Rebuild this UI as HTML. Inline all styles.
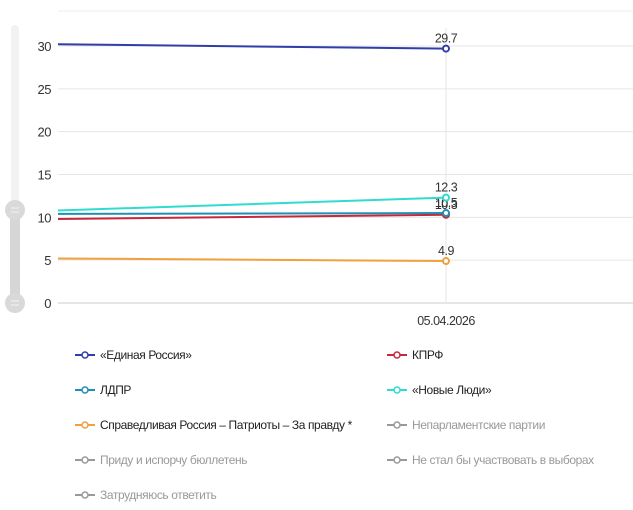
<!DOCTYPE html>
<html><head><meta charset="utf-8"><style>
body{margin:0;background:#fff;font-family:"Liberation Sans",sans-serif;}
svg text{font-family:"Liberation Sans",sans-serif;}
</style></head><body>
<svg id="c" width="633" height="505">
<line x1="58" y1="11" x2="633" y2="11" stroke="#eee"/>
<g>
<rect x="11" y="25" width="8" height="285" rx="4" fill="#f2f2f2"/>
<rect x="10" y="210" width="10" height="93" fill="#d6d6d6"/>
<circle cx="15" cy="210" r="10" fill="#d9d9d9"/>
<circle cx="15" cy="303" r="10" fill="#d9d9d9"/>
<path d="M11 208h8M11 212h8M11 301h8M11 305h8" stroke="#f4f4f4" stroke-width="1"/>
</g>
<g id="grid"></g><g id="series"></g><g id="legend"></g>
</svg>
<script>
const yTicks=[0,5,10,15,20,25,30];
const categories=["","05.04.2026"];
const seriesNames=["«Единая Россия»","КПРФ","ЛДПР","«Новые Люди»","Справедливая Россия – Патриоты – За правду *","Непарламентские партии","Приду и испорчу бюллетень","Не стал бы участвовать в выборах","Затрудняюсь ответить"];
const seriesColors=["#2f3ea8","#c8283c","#1f8fb5","#2fdcd0","#f0a040","#999","#999","#999","#999"];
const erValues=[30.2,29.7];
const kprfValues=[9.8,10.3];
const ldprValues=[10.4,10.5];
const nlValues=[10.8,12.3];
const srValues=[5.2,4.9];
const visibleSeries=[erValues,kprfValues,ldprValues,nlValues,srValues];
const NS="http://www.w3.org/2000/svg";
const y=v=>303-v*(257/30);
const x=i=>58+i*388;
function mk(t,a,p){const e=document.createElementNS(NS,t);for(const k in a)e.setAttribute(k,a[k]);p.appendChild(e);return e;}
const g=document.getElementById('grid');
yTicks.forEach(t=>{
 const l=mk('line',{x1:58,x2:633,y1:y(t),y2:y(t),stroke:t===0?'#ccc':'#e6e6e6'},g);
 
 
 const tx=mk('text',{x:51,y:y(t)+5,'text-anchor':'end','font-size':13,fill:'#333','letter-spacing':'-0.5'},g);
 
 
 tx.textContent=t;
});
categories.forEach((c,i)=>{if(!c)return;
 const l=mk('line',{x1:x(i),x2:x(i),y1:28,y2:303,stroke:'#e6e6e6'},g);
 
 
 const t=mk('text',{x:x(i),y:325,'text-anchor':'middle','font-size':12.5,fill:'#333','letter-spacing':'-0.5'},g);
 
 
 t.textContent=c;
});
const s=document.getElementById('series');
visibleSeries.forEach((vals,k)=>{
 const col=seriesColors[k];
 const d=vals.map((v,i)=>(i?'L':'M')+x(i)+' '+y(v)).join(' ');
 const p=mk('path',{d:d,stroke:col,'stroke-width':2,fill:'none'},s);
 
 
 const i=vals.length-1;
 const c=mk('circle',{cx:x(i),cy:y(vals[i]),r:3,fill:'#fff',stroke:col,'stroke-width':2},s);
 
 
 const t=mk('text',{x:x(i),y:y(vals[i])-6,'text-anchor':'middle','font-size':12.5,fill:'#333','letter-spacing':'-0.5'},s);
 
 
 t.textContent=vals[i];
});
const lg=document.getElementById('legend');
seriesNames.forEach((n,k)=>{
 const col=k%2, row=Math.floor(k/2);
 const lx=col?387:75, ly=355+row*35;
 const gi=mk('g',{},lg);
 
 
 mk('line',{x1:lx,x2:lx+20,y1:ly,y2:ly,stroke:seriesColors[k],'stroke-width':2},gi);
 mk('circle',{cx:lx+10,cy:ly,r:3,fill:'#fff',stroke:seriesColors[k],'stroke-width':1.5},gi);
 const t=mk('text',{x:lx+25,y:ly+4,'font-size':12,fill:k<5?'#222':'#999','letter-spacing':'-0.4'},gi);
 t.textContent=n;
});
</script>
</body></html>
